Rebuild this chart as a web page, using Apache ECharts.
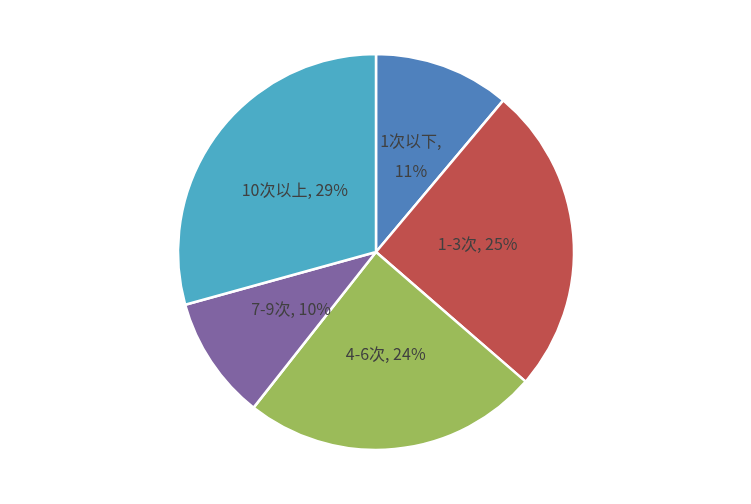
<!DOCTYPE html>
<html><head><meta charset="utf-8">
<script src="https://cdn.jsdelivr.net/npm/echarts@6/dist/echarts.min.js"></script>
<style>html,body{margin:0;background:#fff}#c{width:751px;height:504px}</style>
</head><body><div id="c"></div>
<script>
const categories = ['1次以下','1-3次','4-6次','7-9次','10次以上'];
const values = [11,25,24,10,29];
const colors = ['#4F81BD','#C0504D','#9BBB59','#8064A2','#4BACC6'];
const chart = echarts.init(document.getElementById('c'));
chart.setOption({
  animation:false,
  series:[{
    type:'pie', center:[376,252], radius:[0,198], startAngle:90, clockwise:true,
    data: categories.map((c,i)=>({name:c,value:values[i],itemStyle:{color:colors[i]}})),
    itemStyle:{borderColor:'#fff',borderWidth:2.5},
    label:{position:'inside',color:'#404040',fontSize:16,fontFamily:'Noto Sans CJK SC',lineHeight:30,
      formatter:p=>p.dataIndex===0?p.name+',\n'+p.value+'%':p.name+', '+p.value+'%'},
    labelLine:{show:false}
  }]
});
</script></body></html>
